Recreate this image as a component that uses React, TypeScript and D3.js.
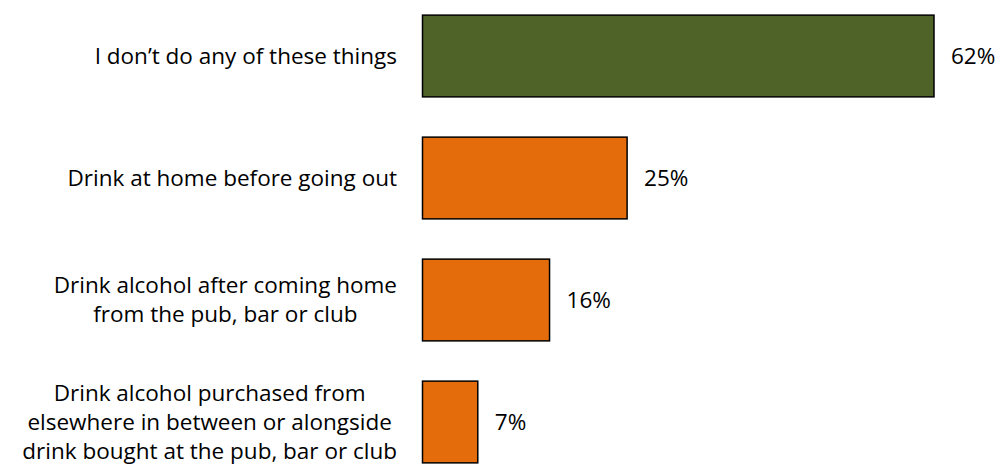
import React from "react";
import * as d3 from "d3";

const categories: string[][] = [
  ["I don’t do any of these things"],
  ["Drink at home before going out"],
  ["Drink alcohol after coming home", "from the pub, bar or club"],
  [
    "Drink alcohol purchased from",
    "elsewhere in between or alongside",
    "drink bought at the pub, bar or club",
  ],
];
const values: number[] = [62, 24.8, 15.4, 6.7];
const valueLabels: string[] = ["62%", "25%", "16%", "7%"];
const colors: string[] = ["#4F6228", "#E46C0A", "#E46C0A", "#E46C0A"];

const W = 999;
const H = 466;
const FONT = "'Open Sans', sans-serif";
const fs = 22.5;

let ctx: CanvasRenderingContext2D | null = null;
function measure(t: string): number {
  if (!ctx) ctx = document.createElement("canvas").getContext("2d");
  ctx!.font = `${fs}px ${FONT}`;
  return ctx!.measureText(t).width;
}

export default function App() {
  const ids = categories.map((_, i) => String(i));
  const y = d3.scaleBand<string>().domain(ids).range([-5, 483]).paddingInner(0.33).paddingOuter(0.165);
  const x = d3.scaleLinear().domain([0, 62]).range([422.5, 934]);
  const lineH = 29;
  const rightEdge = 397;
  return (
    <svg width={W} height={H} style={{ position: "absolute", left: 0, top: 0, background: "#fff" }}>
      {values.map((v, i) => {
        const y0 = y(ids[i])!;
        const bw = y.bandwidth();
        const cy = y0 + bw / 2;
        const lines = categories[i];
        const maxW = Math.max(...lines.map(measure));
        const cx = rightEdge - maxW / 2;
        return (
          <g key={i}>
            <rect
              x={x(0)}
              y={y0}
              width={x(v) - x(0)}
              height={bw}
              fill={colors[i]}
              stroke="#000"
              strokeWidth={1.5}
            />
            <text
              x={x(v) + 17}
              y={cy}
              dy="0.35em"
              fontFamily={FONT}
              fontSize={fs}
              fill="#000"
            >
              {valueLabels[i]}
            </text>
            <text textAnchor="middle" fontFamily={FONT} fontSize={fs} fill="#000">
              {lines.map((l, j) => (
                <tspan key={j} x={cx} y={cy + (j - (lines.length - 1) / 2) * lineH} dy="0.35em">
                  {l}
                </tspan>
              ))}
            </text>
          </g>
        );
      })}
    </svg>
  );
}
